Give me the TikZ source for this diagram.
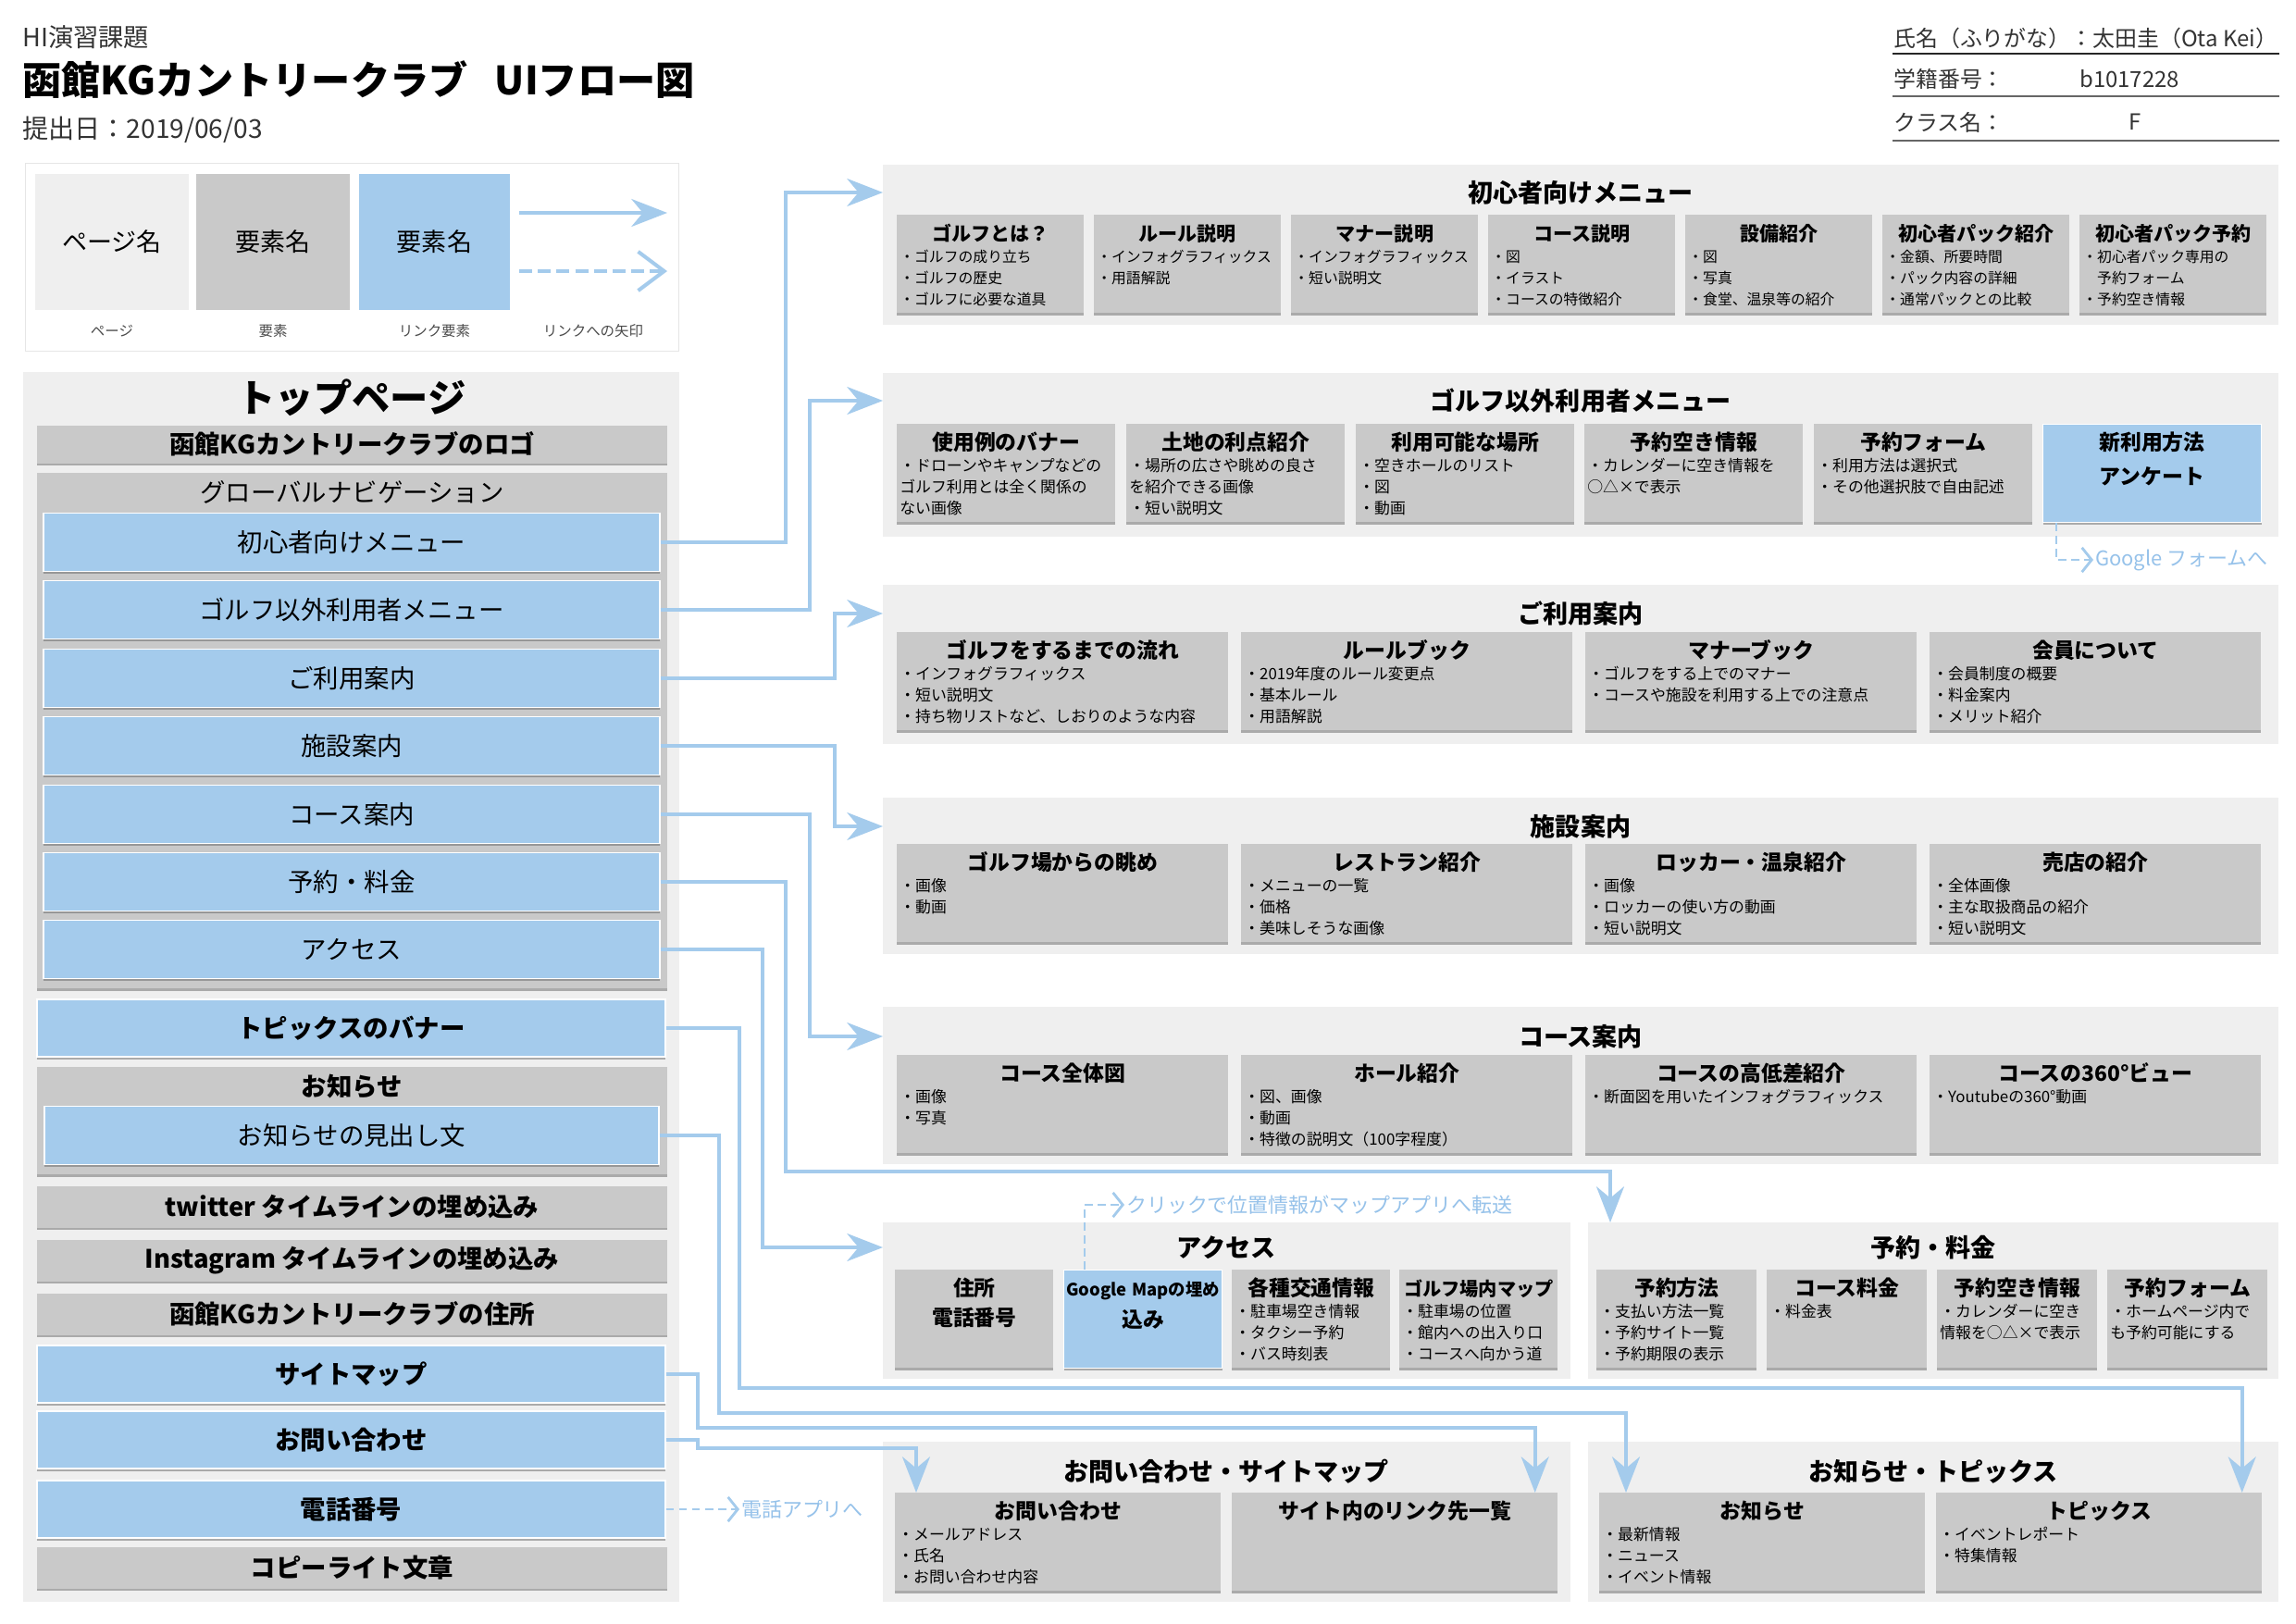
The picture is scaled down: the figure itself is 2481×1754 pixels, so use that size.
\documentclass[tikz,border=0pt]{standalone}
\usepackage{fontspec}
\setmainfont{Noto Sans CJK JP}
\usetikzlibrary{arrows.meta,calc,shadows}

\definecolor{pagegray}{RGB}{239,239,239}
\definecolor{cardgray}{RGB}{201,201,201}
\definecolor{linkblue}{RGB}{164,203,236}
\definecolor{linktext}{RGB}{150,194,234}
\definecolor{framegray}{RGB}{230,230,230}

% centred bold title line inside a card
\def\ctsz{13}
\newcommand\ct[1]{\makebox[\linewidth]{\bfseries\fontsize{\ctsz}{15}\selectfont #1}}

\begin{document}
\begin{tikzpicture}[x=0.2mm, y=-0.2mm,
    cshadow/.style={drop shadow={shadow xshift=0pt, shadow yshift=-1.5pt, opacity=.5, fill=black!60}},
    panel/.style={fill=pagegray, anchor=north west, inner sep=0pt},
    ptitle/.style={font=\bfseries\fontsize{15.4}{18}\selectfont},
    card/.style={fill=cardgray, cshadow, anchor=north west, inner xsep=0.6mm, inner ysep=0pt,
        text height=5.6mm, text depth=15.6mm, align=left, font=\fontsize{9.6}{13.1}\selectfont},
    c7/.style={card, text width=39.2mm, font=\fontsize{9}{13.1}\selectfont\def\ctsz{12}},
    c6/.style={card, text width=46mm},
    c4/.style={card, text width=70.4mm},
    ca/.style={card, text width=33mm},
    cr/.style={card, text width=33.4mm},
    cb/.style={card, text width=69.2mm},
    blue/.style={fill=linkblue, draw=white, line width=0.6pt},
    gitem/.style={fill=cardgray, cshadow, minimum width=136.2mm, minimum height=9mm, inner sep=0pt,
        font=\bfseries\fontsize{15.6}{18}\selectfont},
    bitem/.style={blue, cshadow, minimum width=133.2mm, minimum height=12.6mm, inner sep=0pt,
        font=\fontsize{15.6}{18}\selectfont},
    bitemw/.style={bitem, minimum width=135.8mm, minimum height=12.4mm,
        font=\bfseries\fontsize{15.6}{18}\selectfont},
    head/.style={anchor=west, inner sep=0pt, text=black!80},
    lbox/.style={minimum width=33.2mm, minimum height=29.4mm, inner sep=0pt, font=\fontsize{15.4}{18}\selectfont},
    lcap/.style={text=black!70, font=\fontsize{8.8}{10}\selectfont},
    ltext/.style={anchor=west, inner sep=1pt, text=linktext, font=\fontsize{12.5}{14}\selectfont},
    link/.style={draw=linkblue, line width=2.3pt, -{Stealth[length=22pt, width=17pt, inset=7pt]}},
    dlink/.style={draw=linkblue, line width=1.6pt, dash pattern=on 5pt off 3pt,
        -{Straight Barb[length=6pt, width=15pt]}},
]

\fill[white] (0,0) rectangle (2481,1754);
\useasboundingbox (0,0) rectangle (2481,1754);

% header
\node[head, font=\fontsize{15.5}{18}\selectfont] (hi) at (24,40) {HI演習課題};
\node[head, text=black, font=\bfseries\fontsize{24}{28}\selectfont] (title) at (24,86) {函館KGカントリークラブ\hspace{0.7em}UIフロー図};
\node[head, font=\fontsize{16}{19}\selectfont] (date) at (24,140) {提出日：2019/06/03};

\node[head, font=\fontsize{13.6}{15}\selectfont] (name) at (2046,41) {氏名（ふりがな）：太田圭（Ota Kei）};
\node[head, font=\fontsize{13.6}{15}\selectfont] (sid) at (2046,85) {学籍番号：};
\node[head, font=\fontsize{13.6}{15}\selectfont] (sidv) at (2247,85) {b1017228};
\node[head, font=\fontsize{13.6}{15}\selectfont] (cls) at (2046,132) {クラス名：};
\node[head, font=\fontsize{13.6}{15}\selectfont] (clsv) at (2300,132) {F};
\draw[black!85, line width=0.8pt] (2045,58) -- (2463,58);
\draw[black!60, line width=0.8pt] (2045,104) -- (2463,104);
\draw[black!60, line width=0.8pt] (2045,152) -- (2463,152);

% legend
\node[draw=framegray, line width=0.8pt, fill=white, anchor=north west, inner sep=0pt,
    minimum width=141.2mm, minimum height=40.6mm] (legend) at (27,176) {};
\node[lbox, fill=pagegray] (lpage) at (121,261) {ページ名};
\node[lbox, fill=cardgray] (lelem) at (295,261) {要素名};
\node[lbox, fill=linkblue, minimum width=32.6mm] (llink) at (469.5,261) {要素名};
\node[lcap] (cpage) at (121,358) {ページ};
\node[lcap] (celem) at (295,358) {要素};
\node[lcap] (clink) at (469.5,358) {リンク要素};
\node[lcap] (carrow) at (641,358) {リンクへの矢印};
\coordinate (la) at (561,230);
\coordinate (lb) at (721,230);
\coordinate (lc) at (561,293);
\coordinate (ld) at (721,293);
\draw[link] (la) -- (lb);
\draw[dlink, line width=2.3pt, dash pattern=on 8pt off 3.5pt, -{Straight Barb[length=16pt, width=24pt]}] (lc) -- (ld);

% top page
\node[panel, minimum width=141.8mm, minimum height=265.8mm] (top) at (25,402) {};
\node[font=\bfseries\fontsize{23.5}{26}\selectfont] (topt) at (380,430) {トップページ};
\node[gitem, minimum height=8.2mm] (logo) at (380.5,480) {函館KGカントリークラブのロゴ};
\node[gitem, minimum height=111.4mm, anchor=north] (gnav) at (380.5,511) {};
\node[font=\fontsize{15.6}{18}\selectfont] (gnavt) at (380.5,532) {グローバルナビゲーション};
\node[bitem] (nav1) at (380,586) {初心者向けメニュー};
\node[bitem] (nav2) at (380,659) {ゴルフ以外利用者メニュー};
\node[bitem] (nav3) at (380,733) {ご利用案内};
\node[bitem] (nav4) at (380,806) {施設案内};
\node[bitem] (nav5) at (380,880) {コース案内};
\node[bitem] (nav6) at (380,953) {予約・料金};
\node[bitem] (nav7) at (380,1026) {アクセス};
\node[bitemw] (topics) at (379.5,1111) {トピックスのバナー};
\node[gitem, minimum height=23.2mm, anchor=north] (newsbox) at (380.5,1153) {};
\node[font=\bfseries\fontsize{15.6}{18}\selectfont] (newsboxt) at (380.5,1174) {お知らせ};
\node[bitem, minimum width=132.8mm] (newsh) at (380,1227) {お知らせの見出し文};
\node[gitem] (twit) at (380.5,1304) {twitter タイムラインの埋め込み};
\node[gitem] (insta) at (380.5,1362) {Instagram タイムラインの埋め込み};
\node[gitem] (addr) at (380.5,1420) {函館KGカントリークラブの住所};
\node[bitemw] (smap) at (379.5,1485) {サイトマップ};
\node[bitemw] (inq) at (379.5,1556) {お問い合わせ};
\node[bitemw] (tel) at (379.5,1631) {電話番号};
\node[gitem] (copy) at (380.5,1694) {コピーライト文章};

% 初心者向けメニュー
\node[panel, minimum width=301.6mm, minimum height=34.6mm] (beg) at (954,178) {};
\node[ptitle] (begt) at (1708,208) {初心者向けメニュー};
\node[c7] (c11) at (969,232) {\ct{ゴルフとは？}\\・ゴルフの成り立ち\\・ゴルフの歴史\\・ゴルフに必要な道具};
\node[c7] (c12) at (1182,232) {\ct{ルール説明}\\・インフォグラフィックス\\・用語解説};
\node[c7] (c13) at (1395,232) {\ct{マナー説明}\\・インフォグラフィックス\\・短い説明文};
\node[c7] (c14) at (1608,232) {\ct{コース説明}\\・図\\・イラスト\\・コースの特徴紹介};
\node[c7] (c15) at (1821,232) {\ct{設備紹介}\\・図\\・写真\\・食堂、温泉等の紹介};
\node[c7] (c16) at (2034,232) {\ct{初心者パック紹介}\\・金額、所要時間\\・パック内容の詳細\\・通常パックとの比較};
\node[c7] (c17) at (2247,232) {\ct{初心者パック予約}\\・初心者パック専用の\\\phantom{・}予約フォーム\\・予約空き情報};

% ゴルフ以外利用者メニュー
\node[panel, minimum width=301.6mm, minimum height=35.4mm] (nongolf) at (954,403) {};
\node[ptitle] (nongolft) at (1708,433) {ゴルフ以外利用者メニュー};
\node[c6] (c21) at (969,458) {\ct{使用例のバナー}\\・ドローンやキャンプなどの\\ゴルフ利用とは全く関係の\\ない画像};
\node[c6] (c22) at (1217,458) {\ct{土地の利点紹介}\\・場所の広さや眺めの良さ\\を紹介できる画像\\・短い説明文};
\node[c6] (c23) at (1465,458) {\ct{利用可能な場所}\\・空きホールのリスト\\・図\\・動画};
\node[c6] (c24) at (1712,458) {\ct{予約空き情報}\\・カレンダーに空き情報を\\○△×で表示};
\node[c6] (c25) at (1960,458) {\ct{予約フォーム}\\・利用方法は選択式\\・その他選択肢で自由記述};
\node[c6, blue] (c26) at (2207,458) {\ct{新利用方法}\\[8pt]\ct{アンケート}};
\node[ltext] (gform) at (2262,605) {Google フォームへ};

% ご利用案内
\node[panel, minimum width=301.6mm, minimum height=34.4mm] (guide) at (954,632) {};
\node[ptitle] (guidet) at (1708,663) {ご利用案内};
\node[c4] (c31) at (969,683) {\ct{ゴルフをするまでの流れ}\\・インフォグラフィックス\\・短い説明文\\・持ち物リストなど、しおりのような内容};
\node[c4] (c32) at (1341,683) {\ct{ルールブック}\\・2019年度のルール変更点\\・基本ルール\\・用語解説};
\node[c4] (c33) at (1713,683) {\ct{マナーブック}\\・ゴルフをする上でのマナー\\・コースや施設を利用する上での注意点};
\node[c4] (c34) at (2085,683) {\ct{会員について}\\・会員制度の概要\\・料金案内\\・メリット紹介};

% 施設案内
\node[panel, minimum width=301.6mm, minimum height=33.8mm] (facil) at (954,862) {};
\node[ptitle] (facilt) at (1708,893) {施設案内};
\node[c4] (c41) at (969,912) {\ct{ゴルフ場からの眺め}\\・画像\\・動画};
\node[c4] (c42) at (1341,912) {\ct{レストラン紹介}\\・メニューの一覧\\・価格\\・美味しそうな画像};
\node[c4] (c43) at (1713,912) {\ct{ロッカー・温泉紹介}\\・画像\\・ロッカーの使い方の動画\\・短い説明文};
\node[c4] (c44) at (2085,912) {\ct{売店の紹介}\\・全体画像\\・主な取扱商品の紹介\\・短い説明文};

% コース案内
\node[panel, minimum width=301.6mm, minimum height=34mm] (course) at (954,1088) {};
\node[ptitle] (courset) at (1708,1120) {コース案内};
\node[c4] (c51) at (969,1140) {\ct{コース全体図}\\・画像\\・写真};
\node[c4] (c52) at (1341,1140) {\ct{ホール紹介}\\・図、画像\\・動画\\・特徴の説明文（100字程度）};
\node[c4] (c53) at (1713,1140) {\ct{コースの高低差紹介}\\・断面図を用いたインフォグラフィックス};
\node[c4] (c54) at (2085,1140) {\ct{コースの360°ビュー}\\・Youtubeの360°動画};

% アクセス
\node[panel, minimum width=148.6mm, minimum height=33.8mm] (access) at (954,1321) {};
\node[ptitle] (accesst) at (1325,1348) {アクセス};
\node[ca] (c61) at (967,1372) {\ct{住所}\\[5pt]\ct{電話番号}};
\node[ca, blue] (c62) at (1149,1372) {\makebox[\linewidth]{\bfseries\fontsize{10.5}{14}\selectfont Google Mapの埋め}\\[5pt]\ct{込み}};
\node[ca] (c63) at (1331,1372) {\ct{各種交通情報}\\・駐車場空き情報\\・タクシー予約\\・バス時刻表};
\node[ca] (c64) at (1512,1372) {\makebox[\linewidth]{\bfseries\fontsize{11.5}{14}\selectfont ゴルフ場内マップ}\\・駐車場の位置\\・館内への出入り口\\・コースへ向かう道};
\node[ltext] (gclick) at (1215,1302) {クリックで位置情報がマップアプリへ転送};

% 予約・料金
\node[panel, minimum width=149.2mm, minimum height=33.8mm] (resv) at (1716,1321) {};
\node[ptitle] (resvt) at (2089,1348) {予約・料金};
\node[cr] (c71) at (1725,1372) {\ct{予約方法}\\・支払い方法一覧\\・予約サイト一覧\\・予約期限の表示};
\node[cr] (c72) at (1909,1372) {\ct{コース料金}\\・料金表};
\node[cr] (c73) at (2093,1372) {\ct{予約空き情報}\\・カレンダーに空き\\情報を○△×で表示};
\node[cr] (c74) at (2277,1372) {\ct{予約フォーム}\\・ホームページ内で\\も予約可能にする};

% お問い合わせ・サイトマップ
\node[panel, minimum width=148.6mm, minimum height=34.6mm] (inqp) at (954,1558) {};
\node[ptitle] (inqpt) at (1325,1590) {お問い合わせ・サイトマップ};
\node[cb] (c81) at (967,1613) {\ct{お問い合わせ}\\・メールアドレス\\・氏名\\・お問い合わせ内容};
\node[cb] (c82) at (1331,1613) {\ct{サイト内のリンク先一覧}};

% お知らせ・トピックス
\node[panel, minimum width=149.2mm, minimum height=34.6mm] (newsp) at (1716,1558) {};
\node[ptitle] (newspt) at (2089,1590) {お知らせ・トピックス};
\node[cb] (c91) at (1728,1613) {\ct{お知らせ}\\・最新情報\\・ニュース\\・イベント情報};
\node[cb] (c92) at (2092,1613) {\ct{トピックス}\\・イベントレポート\\・特集情報};
\node[ltext] (telapp) at (799,1631) {電話アプリへ};

% links
\draw[link] (nav1.east) -- ++(135,0) |- (beg.west |- begt);
\draw[link] (nav2.east) -- ++(161,0) |- (nongolf.west |- nongolft);
\draw[link] (nav3.east) -- ++(188,0) |- (guide.west |- guidet);
\draw[link] (nav4.east) -- ++(188,0) |- (facil.west |- facilt);
\draw[link] (nav5.east) -- ++(161,0) |- (course.west |- courset);
\draw[link] (nav6.east) -- ++(135,0) |- ($(resv.north west)+(24,-55)$) -- ($(resv.north west)+(24,0)$);
\draw[link] (nav7.east) -- ++(110,0) |- (access.west |- accesst);
\draw[link] (topics.east) -- ++(79,0) |- ($(c92.north east)+(-22,-113)$) -- ($(c92.north east)+(-22,0)$);
\draw[link] (newsh.east) -- ++(64,0) |- ($(c91.north west)+(29,-86)$) -- ($(c91.north west)+(29,0)$);
\draw[link] (smap.east) -- ++(34,0) |- ($(c82.north east)+(-25,-70)$) -- ($(c82.north east)+(-25,0)$);
\draw[link] (inq.east) -- ++(34,0) |- ($(c81.north west)+(23,-48)$) -- ($(c81.north west)+(23,0)$);

% dashed links
\draw[dlink] ($(c26.south west)+(15,0)$) |- (gform.west);
\draw[dlink] ($(c62.north west)+(23,0)$) |- (gclick.west);
\draw[dlink] (tel.east) -- (telapp.west);

\end{tikzpicture}
\end{document}
